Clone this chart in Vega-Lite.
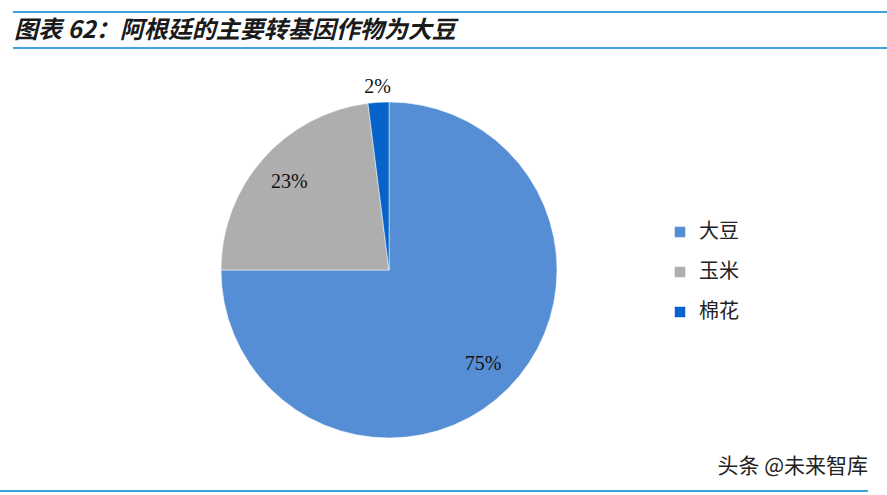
{
  "$schema": "https://vega.github.io/schema/vega-lite/v6.json",
  "width": 887,
  "height": 495,
  "autosize": {"type": "none"},
  "padding": 0,
  "background": "white",
  "config": {"view": {"stroke": null}},
  "title": {
    "text": "图表 62：阿根廷的主要转基因作物为大豆",
    "anchor": "start",
    "frame": "group",
    "orient": "top",
    "offset": -43,
    "dx": 14,
    "font": "Noto Sans CJK SC",
    "fontSize": 24,
    "fontWeight": "bold",
    "fontStyle": "italic",
    "color": "#1a1a1a",
    "limit": 0
  },
  "layer": [
    {
      "data": {"values": [{}]},
      "mark": {"type": "rule", "stroke": "#3FA2DE", "strokeWidth": 2},
      "encoding": {"x": {"value": 13}, "x2": {"value": 887}, "y": {"value": 12}}
    },
    {
      "data": {"values": [{}]},
      "mark": {"type": "rule", "stroke": "#3FA2DE", "strokeWidth": 2},
      "encoding": {"x": {"value": 13}, "x2": {"value": 887}, "y": {"value": 48}}
    },
    {
      "data": {"values": [{}]},
      "mark": {"type": "rule", "stroke": "#3FA2DE", "strokeWidth": 2},
      "encoding": {"x": {"value": 0}, "x2": {"value": 868}, "y": {"value": 491}}
    },
    {
      "data": {"values": [{}]},
      "mark": {"type": "text", "x": 868, "y": 467, "align": "right", "baseline": "middle", "text": "头条 @未来智库", "font": "Noto Sans CJK SC", "fontSize": 21, "color": "#222"},
      "encoding": {}
    },
    {
      "data": {
        "values": [
          {"crop": "大豆", "value": 75},
          {"crop": "玉米", "value": 23},
          {"crop": "棉花", "value": 2}
        ]
      },
      "transform": [{"calculate": "datum.value + '%'", "as": "label"}],
      "layer": [
        {
          "mark": {"type": "arc", "x": 389, "y": 270, "outerRadius": 168, "stroke": "white", "strokeWidth": 0.5},
          "encoding": {
            "theta": {"field": "value", "type": "quantitative", "stack": true},
            "order": {"field": "value", "sort": "descending"},
            "color": {
              "field": "crop",
              "type": "nominal",
              "scale": {"domain": ["大豆", "玉米", "棉花"], "range": ["#558ED5", "#AEAEAE", "#0563C9"]},
              "legend": {
                "title": null,
                "orient": "none",
                "legendX": 670,
                "legendY": 222,
                "symbolType": "square",
                "symbolSize": 110,
                "symbolStrokeWidth": 0,
                "labelFont": "Noto Sans CJK SC",
                "labelFontSize": 20,
                "labelColor": "#222",
                "labelOffset": 9,
                "rowPadding": 20
              }
            }
          }
        },
        {
          "mark": {"type": "text", "x": 389, "y": 270, "radius": 133, "font": "Liberation Serif", "fontSize": 20, "color": "#111"},
          "encoding": {
            "theta": {"field": "value", "type": "quantitative", "stack": true},
            "order": {"field": "value", "sort": "descending"},
            "text": {"condition": {"test": "datum.value > 5", "field": "label"}, "value": ""}
          }
        },
        {
          "mark": {"type": "text", "x": 389, "y": 270, "radius": 183, "font": "Liberation Serif", "fontSize": 20, "color": "#111"},
          "encoding": {
            "theta": {"field": "value", "type": "quantitative", "stack": true},
            "order": {"field": "value", "sort": "descending"},
            "text": {"condition": {"test": "datum.value <= 5", "field": "label"}, "value": ""}
          }
        }
      ]
    }
  ]
}
